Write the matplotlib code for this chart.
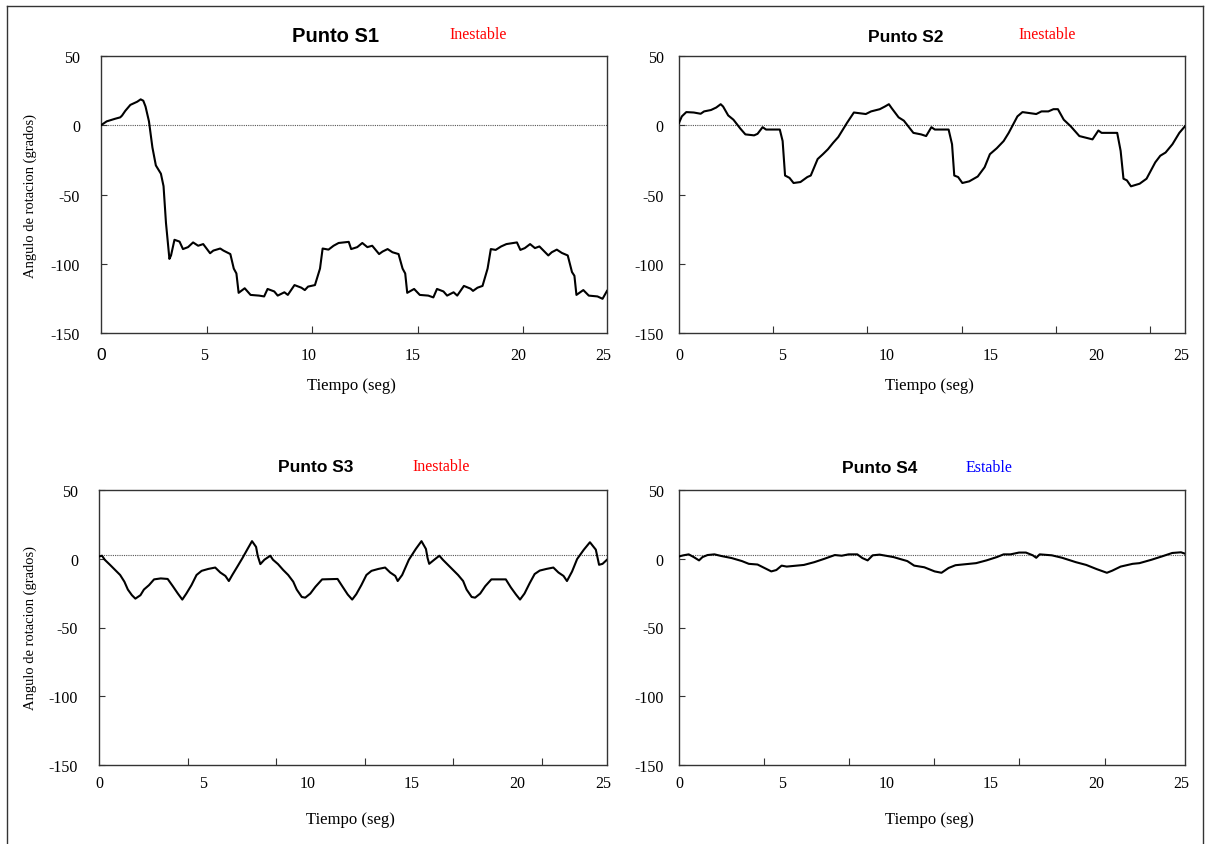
import matplotlib
matplotlib.use("Agg")
import matplotlib.pyplot as plt
from matplotlib.lines import Line2D

# ---------------- data ----------------
t_s1 = [0, 0.28, 0.7, 0.95, 1.04, 1.2, 1.45, 1.79, 1.96, 2.09, 2.2, 2.37, 2.54, 2.71, 2.96, 3.09, 3.21, 3.38,
        3.46, 3.63, 3.88, 4.05, 4.3, 4.55, 4.8, 5.05, 5.39, 5.55, 5.89, 6.05, 6.39, 6.56, 6.69, 6.8, 7.1, 7.39,
        7.81, 8.06, 8.23, 8.56, 8.73, 9.06, 9.23, 9.56, 9.9, 10.07, 10.23, 10.57, 10.82, 10.95, 11.24, 11.49,
        11.74, 12.24, 12.36, 12.66, 12.91, 13.16, 13.4, 13.74, 13.91, 14.16, 14.4, 14.7, 14.9, 15.03, 15.13,
        15.47, 15.75, 16.17, 16.42, 16.6, 16.92, 17.1, 17.42, 17.6, 17.93, 18.26, 18.38, 18.6, 18.85, 19.1,
        19.26, 19.5, 19.77, 20.03, 20.55, 20.72, 20.94, 21.2, 21.44, 21.66, 22.1, 22.27, 22.52, 22.77, 23.06,
        23.27, 23.39, 23.49, 23.83, 24.1, 24.53, 24.78, 25.0]
v_s1 = [0, 2.8, 4.7, 5.7, 7, 10.4, 14.7, 17, 18.7, 17.7, 13.5, 2.8, -16, -29, -35, -44, -70.5, -96.5,
        -94, -82.7, -84, -89.4, -88, -84.6, -87, -85.8, -92.4, -90.5, -89, -90.5, -93, -103.5, -107, -121,
        -117.7, -122.5, -123, -123.6, -118.2, -120, -123, -120.6, -122.5, -115.4, -117.3, -119, -116.5, -115.4,
        -103.5, -89, -89.8, -87, -85, -84.2, -89.4, -88, -85, -88, -87, -93, -91.2, -89.4, -91.7, -93, -103.5,
        -107, -121, -118.2, -122.5, -123, -124.3, -118.2, -120, -123, -120.6, -123, -116, -118, -119.6, -117.3,
        -116, -103.5, -89.4, -90, -87.5, -85.8, -84.6, -90, -88.7, -85.8, -88.7, -87.5, -94, -91.7, -89.8,
        -92.2, -94, -106, -108.7, -122.5, -119, -123, -123.6, -125.3, -119.6]

t_s2 = [0, 0.14, 0.36, 0.73, 1.07, 1.24, 1.58, 1.84, 2.06, 2.18, 2.43, 2.69, 3.03, 3.28, 3.71, 3.88, 4.13, 4.3,
        4.98, 5.12, 5.24, 5.46, 5.66, 6.0, 6.34, 6.51, 6.85, 7.11, 7.36, 7.62, 7.87, 8.3, 8.64, 9.23, 9.49,
        9.92, 10.17, 10.37, 10.51, 10.85, 11.11, 11.58, 11.96, 12.21, 12.47, 12.64, 13.32, 13.49, 13.6, 13.79,
        14.0, 14.34, 14.76, 15.1, 15.36, 15.7, 16.04, 16.29, 16.72, 16.97, 17.65, 17.91, 18.25, 18.5, 18.72,
        19.01, 19.35, 19.78, 20.43, 20.72, 20.88, 21.65, 21.82, 21.96, 22.13, 22.33, 22.76, 23.1, 23.53, 23.78,
        24.04, 24.38, 24.72, 25.0]
v_s2 = [1.7, 6.4, 9.5, 9.2, 8.3, 10, 11, 12.8, 15.2, 13.5, 7.1, 4, -2.4, -6.6, -7.3, -6.2, -1.4, -3.1,
        -3.1, -11.4, -36.3, -38, -41.7, -41, -37.4, -36.3, -24.4, -20.9, -17.3, -12.6, -8.5, 1.7, 9.2, 8.1, 10,
        11.6, 13.5, 15.2, 12.3, 5.7, 3.3, -5.5, -6.6, -7.8, -1.4, -3.1, -3.1, -13.7, -36.3, -37.4,
        -41.7, -40.5, -37, -30.3, -20.9, -16.6, -11.4, -5.5, 6.4, 9.5, 8.1, 10, 10, 11.6, 11.6,
        4, -0.7, -7.8, -10.2, -3.8, -5.5, -5.5, -18.5, -38.6, -39.8, -44.1, -42.2, -38.6, -26.8, -22,
        -19.7, -13.7, -5.5, -0.7]

t_s3 = [0, 0.15, 0.28, 0.54, 0.79, 1.04, 1.25, 1.42, 1.62, 1.79, 2.04, 2.21, 2.46, 2.71, 3.04, 3.38, 3.63, 3.88,
        4.1, 4.3, 4.55, 4.8, 5.05, 5.38, 5.72, 5.97, 6.22, 6.39, 6.56, 6.81, 7.06, 7.31, 7.53, 7.73, 7.81, 7.94,
        8.14, 8.43, 8.56, 8.81, 9.06, 9.31, 9.56, 9.73, 9.98, 10.15, 10.4, 10.65, 10.98, 11.74, 11.99, 12.24,
        12.46, 12.66, 12.91, 13.16, 13.41, 13.75, 14.08, 14.33, 14.58, 14.7, 14.92, 15.25, 15.59, 15.87, 16.09,
        16.17, 16.25, 16.5, 16.75, 16.92, 17.17, 17.42, 17.67, 17.92, 18.09, 18.34, 18.51, 18.76, 19.01, 19.31,
        20.02, 20.27, 20.52, 20.72, 20.94, 21.19, 21.44, 21.69, 22.02, 22.36, 22.61, 22.86, 23.03, 23.28, 23.53,
        23.86, 24.16, 24.45, 24.61, 24.78, 25.0]
v_s3 = [1.7, 2.2, -0.7, -4.4, -8.1, -11.8, -16.7, -22.4, -26.5, -29, -26.5, -22.4, -19.2, -15, -14.3, -14.7,
        -19.9, -25.3, -29.7, -25.3, -19.2, -11.8, -8.8, -7.4, -6.4, -10, -12.5, -16.2, -11.8, -5.7, 0.5, 7.1,
        12.8, 8.6, 2.2, -3.9, -0.7, 2.2, -0.7, -3.9, -8.1, -11.8, -16.7, -22.4, -27.8, -28.3, -25.3, -20.4,
        -15, -14.7, -20.4, -26, -29.7, -25.8, -19.2, -11.8, -8.8, -7.4, -6.4, -10, -12.5, -16.2, -11.8, -0.7,
        7.1, 12.8, 7.1, 0.5, -3.7, -0.7, 2.2, -0.7, -4.4, -8.1, -11.8, -16.2, -22.4, -27.8, -28.3, -25.3,
        -19.9, -15, -15, -20.9, -26, -29.7, -25.3, -17.9, -11.1, -8.6, -7.4, -6.4, -10, -12.5, -16.2, -9.3,
        -0.2, 6.6, 12, 6.6, -4.4, -3.7, -0.7]

t_s4 = [0, 0.22, 0.48, 0.73, 0.99, 1.16, 1.41, 1.75, 2.09, 2.6, 3.11, 3.45, 3.88, 4.22, 4.56, 4.81, 5.07, 5.32,
        6.17, 6.68, 7.19, 7.7, 8.04, 8.38, 8.81, 9.06, 9.32, 9.57, 9.91, 10.6, 11.28, 11.62, 12.12, 12.63, 12.97,
        13.32, 13.66, 14.34, 14.68, 15.19, 15.7, 16.04, 16.38, 16.8, 17.14, 17.48, 17.65, 17.82, 18.42, 18.93,
        19.61, 20.12, 20.63, 21.14, 21.4, 21.82, 22.41, 22.75, 23.35, 23.86, 24.37, 24.8, 25.0]
v_s4 = [1.7, 2.5, 3.2, 1.2, -1.2, 1.2, 2.7, 3.2, 2.0, 0.5, -1.7, -3.7, -4.2, -6.7, -9.2, -8.2, -5, -5.7,
        -4.5, -2.5, 0, 2.7, 2.2, 3.2, 3.2, 0.5, -1.2, 2.5, 3.0, 1.2, -1.7, -5, -6.2, -9.2, -10.2,
        -6.7, -4.7, -3.7, -3.2, -1.2, 1.2, 3.2, 3.2, 4.5, 4.5, 2.5, 0.7, 3.2, 2.5, 0.7,
        -2.5, -4.5, -7.5, -10.2, -8.7, -5.7, -3.7, -3.2, -0.7, 1.7, 4.2, 4.7, 3.7]

titles = ["Punto S1", "Punto S2", "Punto S3", "Punto S4"]
status = ["Inestable", "Inestable", "Inestable", "Estable"]
status_colors = ["#ff0000", "#ff0000", "#ff0000", "#0000ff"]
y_ticks = [-150, -100, -50, 0, 50]
x_tick_labels = ["0", "5", "10", "15", "20", "25"]

# ---------------- layout ----------------
W, H = 1207, 845
fig = plt.figure(figsize=(W / 100, H / 100), dpi=100)


def box(l, t, r, b):
    return [l / W, 1 - b / H, (r - l) / W, (b - t) / H]


panels = [
    dict(rect=box(101, 57, 607, 334), t=t_s1, v=v_s1, ref=0.0, tick_step=5.215, ypad=15,
         title_xy=(335, 37), title_fs=14.5, stat_xy=(478, 35), ylabel=True, lab_y=356, xl_y=386),
    dict(rect=box(679, 57, 1185, 334), t=t_s2, v=v_s2, ref=0.0, tick_step=4.655, ypad=11,
         title_xy=(906, 37), title_fs=12.5, stat_xy=(1047, 35), ylabel=False, lab_y=356, xl_y=386),
    dict(rect=box(99, 491, 607, 766), t=t_s3, v=v_s3, ref=3.0, tick_step=4.36, ypad=15,
         title_xy=(316, 468), title_fs=12.5, stat_xy=(441, 467), ylabel=True, lab_y=784, xl_y=820),
    dict(rect=box(679, 491, 1185, 766), t=t_s4, v=v_s4, ref=3.0, tick_step=4.205, ypad=11,
         title_xy=(880, 469), title_fs=12.5, stat_xy=(989, 468), ylabel=False, lab_y=784, xl_y=820),
]
label_pos = [0, 5.1, 10.25, 15.4, 20.6, 24.8]

serif = ["Liberation Serif", "DejaVu Serif"]
sans = ["Liberation Sans", "DejaVu Sans"]

for i, p in enumerate(panels):
    ax = fig.add_axes(p["rect"])
    ax.set_xlim(0, 25)
    ax.set_ylim(-150, 50)
    for s in ax.spines.values():
        s.set_color("#333333")
        s.set_linewidth(1.0)
    ax.axhline(p["ref"], color="#555555", lw=0.8, ls=(0, (1, 1)), zorder=1)
    ax.plot(p["t"], p["v"], color="black", lw=1.5, zorder=3, solid_joinstyle="round")

    ax.set_yticks(y_ticks)
    ax.set_yticklabels([str(v) for v in y_ticks], fontfamily=serif, fontsize=11.5)
    ax.tick_params(axis="y", direction="in", length=4, width=0.8, color="#333333", pad=p["ypad"])

    step = p["tick_step"]
    ticks = []
    k = 1
    while k * step < 24.6:
        ticks.append(k * step)
        k += 1
    ax.set_xticks(ticks)
    ax.set_xticklabels([])
    ax.tick_params(axis="x", direction="in", length=5, width=0.8, color="#333333")

    # tick labels, drawn at their own positions as in the reference
    trans = matplotlib.transforms.blended_transform_factory(ax.transData, fig.transFigure)
    for j, (pos, lab) in enumerate(zip(label_pos, x_tick_labels)):
        fam = sans if (i == 0 and j == 0) else serif
        fs = 12.5 if (i == 0 and j == 0) else 11.5
        ax.text(pos, 1 - p["lab_y"] / H, lab, transform=trans, ha="center", va="center",
                fontfamily=fam, fontsize=fs)

    cx = (p["rect"][0] + p["rect"][2] / 2)
    fig.text(cx - 0.002, 1 - p["xl_y"] / H, "Tiempo (seg)", ha="center", va="center",
             fontfamily=serif, fontsize=12)
    if p["ylabel"]:
        cy = p["rect"][1] + p["rect"][3] / 2
        fig.text(30 / W, cy, "Angulo de rotacion (grados)", rotation=90, ha="center", va="center",
                 fontfamily=serif, fontsize=10.5)

    fig.text(p["title_xy"][0] / W, 1 - p["title_xy"][1] / H, titles[i], ha="center", va="center",
             fontfamily=sans, fontweight="bold", fontsize=p["title_fs"])
    fig.text(p["stat_xy"][0] / W, 1 - p["stat_xy"][1] / H, status[i], ha="center", va="center",
             fontfamily=serif, fontsize=11.5, color=status_colors[i])

# outer frame
fx0, fx1, fy1 = 7 / W, 1203 / W, 1 - 7 / H
for xs, ys in [((fx0, fx0), (0, fy1)), ((fx0, fx1), (fy1, fy1)), ((fx1, fx1), (fy1, 0))]:
    fig.add_artist(Line2D(xs, ys, transform=fig.transFigure, color="#333333", lw=1.0))

fig.savefig("out.png", dpi=100)
